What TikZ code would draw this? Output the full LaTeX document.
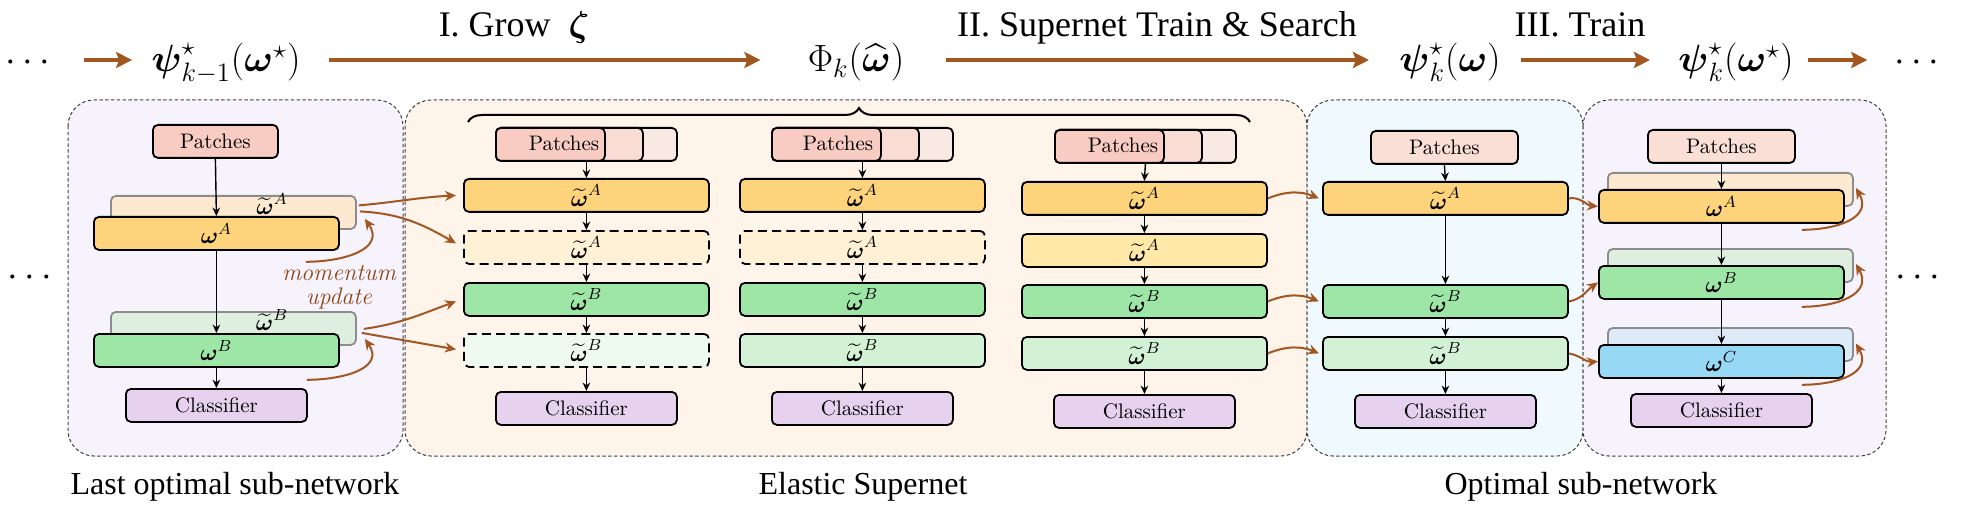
\documentclass[tikz,border=0pt]{standalone}
\usepackage{fix-cm}
\usepackage{amsmath,amssymb}
\usepackage{fontspec}
\setmainfont{Latin Modern Roman}
\newfontfamily\timesf{Liberation Serif}
\usetikzlibrary{arrows.meta,decorations.pathreplacing,calc}
\definecolor{brn}{RGB}{163,87,32}
\definecolor{momc}{RGB}{140,70,25}
\definecolor{lavP}{HTML}{F7F3FD}
\definecolor{peachP}{HTML}{FEF4EA}
\definecolor{cyanP}{HTML}{F0FAFE}
\definecolor{orA}{HTML}{FDD47C}
\definecolor{yelL}{HTML}{FFF1D6}
\definecolor{yelM}{HTML}{FFE8A8}
\definecolor{grB}{HTML}{9EE6A6}
\definecolor{grL}{HTML}{D3F1D5}
\definecolor{grXL}{HTML}{EEF9EF}
\definecolor{clsC}{HTML}{E6D2EF}
\definecolor{pinkA}{HTML}{F8CCC3}
\definecolor{pinkB}{HTML}{F9DDD4}
\definecolor{pinkC}{HTML}{F9E9E3}
\definecolor{pinkL}{HTML}{FADFD7}
\definecolor{ghA}{HTML}{FCE9CF}
\definecolor{ghB}{HTML}{DEEEDF}
\definecolor{ghC}{HTML}{DDEBF9}
\definecolor{blC}{HTML}{97D8F4}
\tikzset{
  bx/.style={draw=black, line width=0.9pt, rounded corners=2.5pt, inner sep=0pt, anchor=north west, minimum height=16.5pt, font=\fontsize{10.5}{12}\selectfont},
  lay/.style={bx, minimum width=122.5pt, font=\fontsize{11.5}{13}\selectfont},
  pat/.style={bx, minimum width=73.5pt, fill=pinkA},
  cls/.style={bx, minimum width=90.5pt, fill=clsC},
  ghost/.style={draw=black!45, line width=0.9pt, rounded corners=2.5pt, inner sep=0pt, anchor=north west, minimum width=122.5pt, minimum height=16.5pt},
  dsh/.style={dash pattern=on 4.5pt off 2.6pt},
  panel/.style={draw=black!75, line width=0.5pt, dash pattern=on 1.7pt off 1.2pt, rounded corners=13pt},
  arr/.style={-{Stealth[length=4.2pt,width=3.8pt]}, line width=0.7pt},
  barr/.style={-{Stealth[length=5.5pt,width=5pt]}, line width=1pt, draw=brn},
  tarr/.style={-{Stealth[length=8pt,width=8pt,inset=1.5pt]}, line width=2pt, draw=brn},
  mathl/.style={inner sep=0pt, font=\fontsize{19}{22}\selectfont, anchor=base},
  topl/.style={inner sep=0pt, font=\timesf\fontsize{18}{21}\selectfont, anchor=base},
  capl/.style={inner sep=0pt, font=\timesf\fontsize{16}{19}\selectfont, anchor=base},
  lbl/.style={inner sep=0pt, font=\fontsize{11.5}{13}\selectfont},
  ptxt/.style={inner sep=0pt, font=\fontsize{10.5}{12}\selectfont},
  mom/.style={inner sep=0pt, align=center, text=momc, font=\fontsize{12}{12}\selectfont\itshape},
}
\newcommand{\wt}[1]{$\widetilde{\boldsymbol{\omega}}^{#1}$}
\newcommand{\wb}[1]{$\boldsymbol{\omega}^{#1}$}
\begin{document}
\begin{tikzpicture}[x=0.5pt,y=-0.5pt]
\useasboundingbox (0,0) rectangle (1962,518);
% ---------- top row ----------
\coordinate (AY) at (0,60);
\node[mathl] (T0) at (31,72) {$\cdots$};
\node[mathl] (T1) at (226,72) {$\boldsymbol{\psi}^{\star}_{k-1}(\boldsymbol{\omega}^{\star})$};
\node[mathl] (T2) at (856,72) {$\Phi_{k}(\widehat{\boldsymbol{\omega}})$};
\node[mathl] (T3) at (1450,72) {$\boldsymbol{\psi}^{\star}_{k}(\boldsymbol{\omega})$};
\node[mathl] (T4) at (1736,72) {$\boldsymbol{\psi}^{\star}_{k}(\boldsymbol{\omega}^{\star})$};
\node[mathl] (T5) at (1920,72) {$\cdots$};
\draw[tarr] ($(T0.east|-AY)+(27,0)$) -- ($(T1.west|-AY)+(-19,0)$);
\draw[tarr] ($(T1.east|-AY)+(28,0)$) -- ($(T2.west|-AY)+(-47,0)$);
\draw[tarr] ($(T2.east|-AY)+(41,0)$) -- ($(T3.west|-AY)+(-30,0)$);
\draw[tarr] ($(T3.east|-AY)+(20,0)$) -- ($(T4.west|-AY)+(-28,0)$);
\draw[tarr] ($(T4.east|-AY)+(14,0)$) -- ($(T5.west|-AY)+(-27,0)$);
\node[topl] (G1) at (514,37) {I. Grow\ \ $\boldsymbol{\zeta}$};
\node[topl] (G2) at (1157,37) {II. Supernet Train \& Search};
\node[topl] (G3) at (1580,37) {III. Train};
% ---------- panels ----------
\path[panel, fill=lavP] (68,100) rectangle (403,456);
\path[panel, fill=peachP] (405,100) rectangle (1307,456);
\path[panel, fill=cyanP] (1307,100) rectangle (1583,456);
\path[panel, fill=lavP] (1583,100) rectangle (1886,456);
\node[mathl] (D1) at (33,286.5) {$\cdots$};
\node[mathl] (D2) at (1921,286.5) {$\cdots$};
% ---------- left panel ----------
\node[pat, minimum width=62.5pt] (LP) at (152,124) {Patches};
\node[ghost, fill=ghA] (LGA) at (110,195) {};
\node[lay, fill=orA] (LA) at (93,216) {\wb{A}};
\node[ghost, fill=ghB] (LGB) at (110,311) {};
\node[lay, fill=grB] (LB) at (93,333) {\wb{B}};
\node[cls] (LC) at (125,388) {Classifier};
\node[lbl] (LGAl) at (272,204) {\wt{A}};
\node[lbl] (LGBl) at (272,320) {\wt{B}};
\node[mom] (MU) at (339,287) {momentum\\update};
\draw[arr] (LP.south) -- (LA.north);
\draw[arr] (LA.south) -- (LB.north);
\draw[arr] (LB.south) -- (LC.north);
\coordinate (LmA) at ($(LA.south east)+(-34,11)$);
\coordinate (LmB) at ($(LB.south east)+(-33,12)$);
\draw[barr] (LmA) to[out=0,in=-55,looseness=1.3] ($(LGA.east)+(8,6.5)$);
\draw[barr] (LmB) to[out=0,in=-55,looseness=1.3] ($(LGB.east)+(8,10.5)$);
% ---------- elastic supernet ----------
\draw[decorate, decoration={brace, amplitude=7pt}, line width=1pt] (468,122) -- (1250,122);
% column 1
\node[pat, fill=pinkC, minimum width=90.5pt] (E1P3) at (495,127) {};
\node[pat, fill=pinkB] (E1P2) at (495,127) {};
\node[pat, fill=pinkA, minimum width=54.5pt] (E1P1) at (495,127) {};
\node[ptxt] (E1Pt) at (564,143.5) {Patches};
\node[lay, fill=orA] (E1A) at (463,178) {\wt{A}};
\node[lay, fill=yelL, dsh] (E1a) at (463,230) {\wt{A}};
\node[lay, fill=grB] (E1B) at (463,282) {\wt{B}};
\node[lay, fill=grXL, dsh] (E1b) at (463,333) {\wt{B}};
\node[cls] (E1C) at (495,391) {Classifier};
\draw[arr] (E1P3.south) -- (E1A.north);
\draw[arr] (E1A.south) -- (E1a.north);
\draw[arr] (E1a.south) -- (E1B.north);
\draw[arr] (E1B.south) -- (E1b.north);
\draw[arr] (E1b.south) -- (E1C.north);
% column 2
\node[pat, fill=pinkC, minimum width=90.5pt] (E2P3) at (771,127) {};
\node[pat, fill=pinkB] (E2P2) at (771,127) {};
\node[pat, fill=pinkA, minimum width=54.5pt] (E2P1) at (771,127) {};
\node[ptxt] (E2Pt) at (838,143.5) {Patches};
\node[lay, fill=orA] (E2A) at (739,178) {\wt{A}};
\node[lay, fill=yelL, dsh] (E2a) at (739,230) {\wt{A}};
\node[lay, fill=grB] (E2B) at (739,282) {\wt{B}};
\node[lay, fill=grL] (E2b) at (739,333) {\wt{B}};
\node[cls] (E2C) at (771,391) {Classifier};
\draw[arr] (E2P3.south) -- (E2A.north);
\draw[arr] (E2A.south) -- (E2a.north);
\draw[arr] (E2a.south) -- (E2B.north);
\draw[arr] (E2B.south) -- (E2b.north);
\draw[arr] (E2b.south) -- (E2C.north);
% column 3
\node[pat, fill=pinkC, minimum width=90.5pt] (E3P3) at (1054,129) {};
\node[pat, fill=pinkB] (E3P2) at (1054,129) {};
\node[pat, fill=pinkA, minimum width=54.5pt] (E3P1) at (1054,129) {};
\node[ptxt] (E3Pt) at (1123,145.5) {Patches};
\node[lay, fill=orA] (E3A) at (1021,181) {\wt{A}};
\node[lay, fill=yelM] (E3a) at (1021,233) {\wt{A}};
\node[lay, fill=grB] (E3B) at (1021,284) {\wt{B}};
\node[lay, fill=grL] (E3b) at (1021,336) {\wt{B}};
\node[cls] (E3C) at (1053,394) {Classifier};
\draw[arr] (E3P3.south) -- (E3A.north);
\draw[arr] (E3A.south) -- (E3a.north);
\draw[arr] (E3a.south) -- (E3B.north);
\draw[arr] (E3B.south) -- (E3b.north);
\draw[arr] (E3b.south) -- (E3C.north);
% left -> column 1
\draw[barr] ($(LGA.east)+(2,-7)$) to[out=5,in=183] ($(E1A.west)+(-7,0)$);
\draw[barr] ($(LGA.east)+(3,-1)$) to[out=-3,in=150] ($(E1a.west)+(-7,-4)$);
\draw[barr] ($(LGB.east)+(7,0.5)$) to[out=8,in=200] ($(E1B.west)+(-7,2)$);
\draw[barr] ($(LGB.east)+(5,4.5)$) to[out=-10,in=170] ($(E1b.west)+(-7,-1)$);
% ---------- optimal sub-network ----------
\node[pat, fill=pinkL] (OP) at (1370,130) {Patches};
\node[lay, fill=orA] (OA) at (1322,181) {\wt{A}};
\node[lay, fill=grB] (OB) at (1322,284) {\wt{B}};
\node[lay, fill=grL] (Ob) at (1322,336) {\wt{B}};
\node[cls] (OC) at (1354,394) {Classifier};
\draw[arr] (OP.south) -- (OA.north);
\draw[arr] (OA.south) -- (OB.north);
\draw[arr] (OB.south) -- (Ob.north);
\draw[arr] (Ob.south) -- (OC.north);
\draw[barr] (E3A.east) to[bend left=22] ($(OA.west)+(-3,0)$);
\draw[barr] (E3B.east) to[bend left=22] ($(OB.west)+(-3,0)$);
\draw[barr] (E3b.east) to[bend left=22] ($(Ob.west)+(-3,0)$);
% ---------- final trained network ----------
\node[pat, fill=pinkL] (FP) at (1647,129) {Patches};
\node[ghost, fill=ghA] (FGA) at (1607,172) {};
\node[lay, fill=orA] (FA) at (1598,189) {\wb{A}};
\node[ghost, fill=ghB] (FGB) at (1607,248) {};
\node[lay, fill=grB] (FB) at (1598,265) {\wb{B}};
\node[ghost, fill=ghC] (FGC) at (1607,327) {};
\node[lay, fill=blC] (FC) at (1598,344) {\wb{C}};
\node[cls] (FCl) at (1630,393) {Classifier};
\draw[arr] (FP.south) -- (FA.north);
\draw[arr] (FA.south) -- (FB.north);
\draw[arr] (FB.south) -- (FC.north);
\draw[arr] (FC.south) -- (FCl.north);
\draw[barr] (OA.east) to[out=10,in=175] (FA.west);
\draw[barr] (OB.east) to[out=10,in=215] (FB.west);
\draw[barr] (Ob.east) to[out=-10,in=185] (FC.west);
\coordinate (FmA) at ($(FA.south east)+(-43,6)$);
\coordinate (FmB) at ($(FB.south east)+(-43,7)$);
\coordinate (FmC) at ($(FC.south east)+(-43,6)$);
\draw[barr] (FmA) to[out=0,in=-60,looseness=1.3] ($(FGA.east)+(2,-1.5)$);
\draw[barr] (FmB) to[out=0,in=-60,looseness=1.3] ($(FGB.east)+(2,-1.5)$);
\draw[barr] (FmC) to[out=0,in=-60,looseness=1.3] ($(FGC.east)+(2,-1)$);
% ---------- captions ----------
\node[capl] (C1) at (235,494) {Last optimal sub-network};
\node[capl] (C2) at (863,494) {Elastic Supernet};
\node[capl] (C3) at (1581,494) {Optimal sub-network};
\end{tikzpicture}
\end{document}
